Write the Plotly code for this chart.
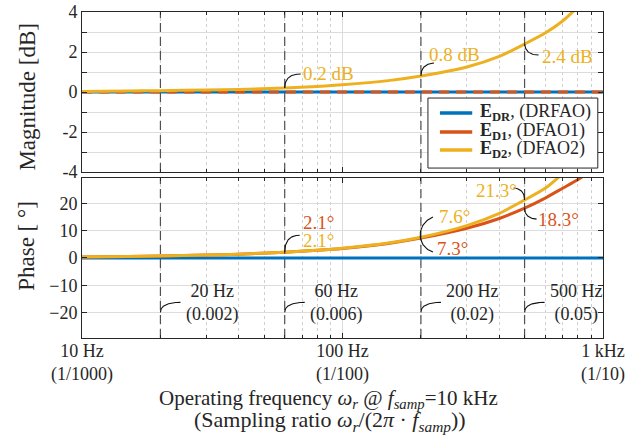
import numpy as np
import plotly.graph_objects as go

# Operating frequency grid [Hz]
freq = [10, 15, 20, 30, 40, 60, 80, 100, 150, 200, 300, 400, 500, 600, 700, 800, 850, 1000]

# Magnitude error [dB]
mag_dr = [0.0] * len(freq)
mag_d1 = [0.0] * len(freq)
mag_d2 = [0.03, 0.05, 0.07, 0.1, 0.13, 0.2, 0.28, 0.36, 0.57, 0.8, 1.25, 1.78, 2.4, 2.95, 3.55,
          4.25, 4.6, 5.8]

# Phase error [deg]
ph_dr = [0.0] * len(freq)
ph_d1 = [0.35, 0.53, 0.7, 1.05, 1.4, 2.1, 2.8, 3.5, 5.35, 7.3, 10.9, 14.5, 18.3, 22.0, 25.6,
         28.7, 30.5, 36.5]
ph_d2 = [0.35, 0.53, 0.7, 1.05, 1.4, 2.1, 2.85, 3.6, 5.5, 7.6, 11.9, 16.4, 21.3, 25.6, 31.0,
         36.5, 39.5, 49.0]

# Marked frequencies and sampling ratios (f_samp = 10 kHz)
mark_f = [20, 60, 200, 500]
mark_ratio = ["0.002", "0.006", "0.02", "0.05"]

# x tick labels
xtick_vals = [10, 100, 1000]
xtick_text = ["10 Hz<br>(1/1000)", "100 Hz<br>(1/100)", "1 kHz<br>(1/10)"]

# legend entries
leg_names = ["<b>E</b><sub><b>DR</b></sub>, (DRFAO)",
             "<b>E</b><sub><b>D1</b></sub>, (DFAO1)",
             "<b>E</b><sub><b>D2</b></sub>, (DFAO2)"]

BLUE, RED, YEL = "#0072BD", "#D95319", "#EDB120"
FONT = "Liberation Serif, Times New Roman, serif"
INK = "#262626"

MAG_RANGE = [-4, 4]
PH_RANGE = [-29.4, 29.4]
X_RANGE = [1, 3]

# figure geometry (pixels)
W, H = 640, 437
ML, MR, MT, MB = 82, 37, 12, 99
PW, PH = W - ML - MR, H - MT - MB
DOM_MAG = [0.509, 1.0]
DOM_PH = [0.0, 0.491]

px_per_dec = PW / (X_RANGE[1] - X_RANGE[0])
px_per_db = PH * (DOM_MAG[1] - DOM_MAG[0]) / (MAG_RANGE[1] - MAG_RANGE[0])
px_per_deg = PH * (DOM_PH[1] - DOM_PH[0]) / (PH_RANGE[1] - PH_RANGE[0])

fig = go.Figure()

# magnitude traces
fig.add_trace(go.Scatter(x=freq, y=mag_dr, mode="lines", line=dict(color=BLUE, width=3),
                         xaxis="x", yaxis="y"))
fig.add_trace(go.Scatter(x=freq, y=mag_d1, mode="lines",
                         line=dict(color=RED, width=3, dash="10px,7px"), xaxis="x", yaxis="y"))
fig.add_trace(go.Scatter(x=freq, y=mag_d2, mode="lines",
                         line=dict(color=YEL, width=3, shape="spline", smoothing=0.6),
                         xaxis="x", yaxis="y"))
# phase traces
fig.add_trace(go.Scatter(x=freq, y=ph_dr, mode="lines", line=dict(color=BLUE, width=3),
                         xaxis="x2", yaxis="y2"))
fig.add_trace(go.Scatter(x=freq, y=ph_d1, mode="lines",
                         line=dict(color=RED, width=3, shape="spline", smoothing=0.6),
                         xaxis="x2", yaxis="y2"))
fig.add_trace(go.Scatter(x=freq, y=ph_d2, mode="lines",
                         line=dict(color=YEL, width=3, shape="spline", smoothing=0.6),
                         xaxis="x2", yaxis="y2"))

# dashed markers at the highlighted frequencies, in both panels
for f in mark_f:
    for xa, ya, rng in (("x", "y", MAG_RANGE), ("x2", "y2", PH_RANGE)):
        fig.add_trace(go.Scatter(x=[f, f], y=rng, mode="lines", xaxis=xa, yaxis=ya,
                                 line=dict(color="#505050", width=1.2, dash="9px,5px")))


def bezier(pts, n=40):
    pts = np.asarray(pts, dtype=float)
    out = []
    for t in np.linspace(0, 1, n):
        p = pts.copy()
        while len(p) > 1:
            p = (1 - t) * p[:-1] + t * p[1:]
        out.append(p[0])
    return np.array(out)


def hook(xa, ya, f, y, ctrl, px_per_unit):
    """Curved leader line anchored at (f, y), control points given as pixel offsets."""
    c = bezier(ctrl)
    xs = f * 10 ** (c[:, 0] / px_per_dec)
    ys = y + c[:, 1] / px_per_unit
    fig.add_trace(go.Scatter(x=xs, y=ys, mode="lines", xaxis=xa, yaxis=ya,
                             line=dict(color="#111111", width=1.1)))


annots = []


def label(xr, yr, f, y, text, color, dx, dy, xanchor="left", size=19):
    annots.append(dict(xref=xr, yref=yr, x=np.log10(f), y=y, text=text, showarrow=False,
                       xanchor=xanchor, yanchor="middle", xshift=dx, yshift=dy,
                       font=dict(family=FONT, size=size, color=color)))


i60, i200, i500 = freq.index(60), freq.index(200), freq.index(500)

# magnitude call-outs on E_D2
hook("x", "y", 60, mag_d2[i60], [(0, 0), (0, 14), (16, 14)], px_per_db)
label("x", "y", 60, mag_d2[i60], f"{mag_d2[i60]:.1f} dB", YEL, 16, 15)
hook("x", "y", 200, mag_d2[i200], [(0, 0), (0, 12), (13, 13)], px_per_db)
label("x", "y", 200, mag_d2[i200], f"{mag_d2[i200]:.1f} dB", YEL, 6, 22)
hook("x", "y", 500, mag_d2[i500], [(0, 0), (1, -11), (14, -11)], px_per_db)
label("x", "y", 500, mag_d2[i500], f"{mag_d2[i500]:.1f} dB", YEL, 15, -12)

# phase call-outs
hook("x2", "y2", 60, ph_d2[i60], [(0, 0), (0, 17), (15, 17)], px_per_deg)
label("x2", "y2", 60, ph_d1[i60], f"{ph_d1[i60]:.1f}°", RED, 16, 30)
label("x2", "y2", 60, ph_d2[i60], f"{ph_d2[i60]:.1f}°", YEL, 16, 12)
hook("x2", "y2", 200, ph_d1[i200], [(12, 21), (-5, 14), (-5, -8), (12, -14)], px_per_deg)
label("x2", "y2", 200, ph_d2[i200], f"{ph_d2[i200]:.1f}°", YEL, 16, 21)
label("x2", "y2", 200, ph_d1[i200], f"{ph_d1[i200]:.1f}°", RED, 14, -10)
hook("x2", "y2", 500, ph_d2[i500], [(0, 0), (0, 11), (-11, 12)], px_per_deg)
label("x2", "y2", 500, ph_d2[i500], f"{ph_d2[i500]:.1f}°", YEL, -6, 9, "right")
hook("x2", "y2", 500, ph_d1[i500], [(0, 0), (0, -10), (12, -11)], px_per_deg)
label("x2", "y2", 500, ph_d1[i500], f"{ph_d1[i500]:.1f}°", RED, 11, -11)

# frequency / sampling-ratio tags in the phase panel
for f, r in zip(mark_f, mark_ratio):
    hook("x2", "y2", f, -20, [(0, 0), (0, 10), (20, 10)], px_per_deg)
    label("x2", "y2", f, -20, f"{f} Hz<br>({r})", INK, 52, 9, "center", 18)

# legend box drawn on an overlay of the magnitude panel (fractions of that panel)
lx0, lx1, ly0, ly1 = 0.664, 0.990, 0.025, 0.4625
rows_y = [0.369, 0.25, 0.1375]
fig.add_trace(go.Scatter(x=[lx0, lx1, lx1, lx0, lx0], y=[ly0, ly0, ly1, ly1, ly0], mode="lines",
                         fill="toself", fillcolor="white", line=dict(color=INK, width=1),
                         xaxis="x3", yaxis="y3"))
for ry, col, name in zip(rows_y, [BLUE, RED, YEL], leg_names):
    fig.add_trace(go.Scatter(x=[0.687, 0.749], y=[ry, ry], mode="lines",
                             line=dict(color=col, width=3.5), xaxis="x3", yaxis="y3"))
    annots.append(dict(xref="x3", yref="y3", x=0.760, y=ry, text=name, showarrow=False,
                       xanchor="left", yanchor="middle", yshift=1,
                       font=dict(family=FONT, size=18, color=INK)))

# axis titles
annots.append(dict(xref="paper", yref="paper", x=-0.104, y=0.74, text="Magnitude [dB]",
                   textangle=-90, showarrow=False, xanchor="center", yanchor="middle",
                   font=dict(family=FONT, size=23, color=INK)))
annots.append(dict(xref="paper", yref="paper", x=-0.108, y=0.282, text="Phase [ °]",
                   textangle=-90, showarrow=False, xanchor="center", yanchor="middle",
                   font=dict(family=FONT, size=23, color=INK)))
annots.append(dict(xref="paper", yref="paper", x=0.473, y=-(399 - (H - MB)) / PH,
                   text="Operating frequency <i>ω</i><sub><i>r</i></sub> @ "
                        "<i>f</i><sub><i>samp</i></sub>=10 kHz",
                   showarrow=False, xanchor="center", yanchor="middle",
                   font=dict(family=FONT, size=21, color=INK)))
annots.append(dict(xref="paper", yref="paper", x=0.476, y=-(421 - (H - MB)) / PH,
                   text="(Sampling ratio <i>ω</i><sub><i>r</i></sub>/(2<i>π</i> · "
                        "<i>f</i><sub><i>samp</i></sub>))",
                   showarrow=False, xanchor="center", yanchor="middle",
                   font=dict(family=FONT, size=22, color=INK)))

minor_vals = [v * m for m in (10, 100) for v in range(2, 10)]

xcommon = dict(type="log", range=X_RANGE, tickvals=xtick_vals, ticks="inside", ticklen=5,
               tickcolor=INK, showline=True, linecolor=INK, linewidth=1, mirror="ticks",
               showgrid=True, gridcolor="#dcdcdc", gridwidth=1, zeroline=False, automargin=False,
               minor=dict(tickvals=minor_vals, ticks="inside", ticklen=3, tickcolor=INK,
                          showgrid=True, gridcolor="#d0d0d0", griddash="dot", gridwidth=1),
               tickfont=dict(family=FONT, size=18, color=INK))
ycommon = dict(ticks="inside", ticklen=5, tickcolor=INK, showline=True, linecolor=INK,
               linewidth=1, mirror="ticks", showgrid=True, gridcolor="#dcdcdc", zeroline=False,
               automargin=False, tickfont=dict(family=FONT, size=18, color=INK))

fig.update_layout(
    width=W, height=H,
    margin=dict(l=ML, r=MR, t=MT, b=MB, autoexpand=False),
    paper_bgcolor="white", plot_bgcolor="white", showlegend=False,
    font=dict(family=FONT, size=18, color=INK),
    xaxis=dict(**xcommon, domain=[0, 1], anchor="y", showticklabels=False, matches="x2"),
    xaxis2=dict(**xcommon, domain=[0, 1], anchor="y2", ticktext=xtick_text,
                ticklabelstandoff=-4),
    xaxis3=dict(overlaying="x", anchor="y3", range=[0, 1], visible=False),
    yaxis=dict(**ycommon, domain=DOM_MAG, range=MAG_RANGE, tickvals=list(range(-4, 5)),
               ticktext=[str(v) if v % 2 == 0 else "" for v in range(-4, 5)]),
    yaxis2=dict(**ycommon, domain=DOM_PH, range=PH_RANGE, tickvals=[-20, -10, 0, 10, 20]),
    yaxis3=dict(overlaying="y", anchor="x3", range=[0, 1], visible=False),
    annotations=annots,
)
fig.write_html("out.html")
